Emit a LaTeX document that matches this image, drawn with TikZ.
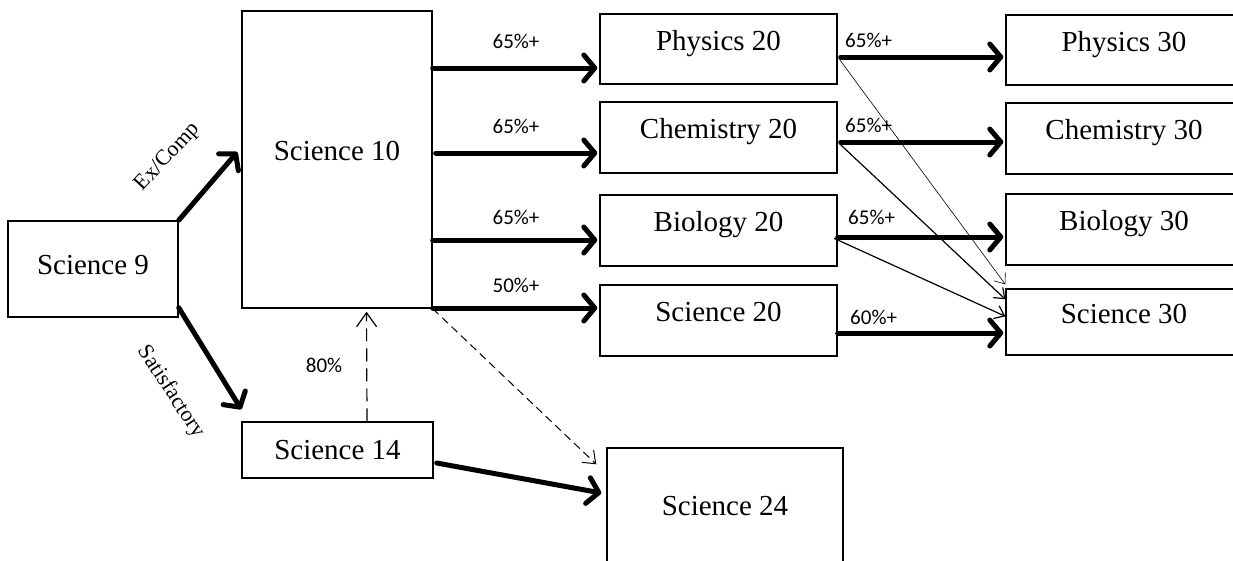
\documentclass[tikz,border=0pt]{standalone}
\usepackage{fontspec}
\setmainfont{Liberation Serif}
\newfontfamily\pctfont{Carlito}
\usetikzlibrary{arrows.meta}

\begin{document}
\begin{tikzpicture}[
    x=1pt, y=-1pt,
    course/.style={draw, line width=1.4pt, inner sep=0pt,
      font=\fontsize{29}{34}\selectfont, text height=7pt, text depth=4.8pt},
    bigarrow/.style={line width=5pt, line cap=round,
      -{Straight Barb[length=11pt, width=26pt, round]}},
    thinarrow/.style={line width=0.6pt, -{Straight Barb[length=9pt, width=14pt]}},
    dasharrow/.style={line width=1.2pt, dash pattern=on 13pt off 7pt,
      -{Straight Barb[length=14pt, width=20pt]}},
    pct/.style={font=\pctfont\fontsize{21}{24}\selectfont, inner sep=0pt},
    slant/.style={font=\fontsize{22}{26}\selectfont, inner sep=0pt}
  ]
  \useasboundingbox (0,0) rectangle (1233,560);

  % courses
  \node[course, minimum width=170, minimum height=96, text height=11pt, text depth=0pt] (sci9) at (93,269) {Science 9};
  \node[course, minimum width=190, minimum height=297] (sci10) at (337,159.5) {Science 10};
  \node[course, minimum width=191, minimum height=56, text height=19pt, text depth=0pt] (sci14) at (337.5,450) {Science 14};

  \node[course, minimum width=237, minimum height=70] (phys20) at (718.5,49) {Physics 20};
  \node[course, minimum width=237, minimum height=71] (chem20) at (718.5,137.5) {Chemistry 20};
  \node[course, minimum width=237, minimum height=71] (bio20) at (718.5,230.5) {Biology 20};
  \node[course, minimum width=237, minimum height=71] (sci20) at (718.5,320.5) {Science 20};
  \node[course, minimum width=236, minimum height=132] (sci24) at (725,514) {Science 24};

  \node[course, minimum width=236, minimum height=70] (phys30) at (1124,50) {Physics 30};
  \node[course, minimum width=236, minimum height=71] (chem30) at (1124,138.5) {Chemistry 30};
  \node[course, minimum width=236, minimum height=71] (bio30) at (1124,229.5) {Biology 30};
  \node[course, minimum width=236, minimum height=66] (sci30) at (1124,322) {Science 30};

  % out of Science 9
  \draw[bigarrow] (sci9.north east) -- ([xshift=-4pt, yshift=7.5pt]sci10.west);
  \node[slant, rotate=47] (excomp) at (168,157) {Ex/Comp};
  \draw[bigarrow] ([yshift=10pt]sci9.south east) -- ([yshift=12pt]sci14.north west);
  \node[slant, rotate=-57] (satis) at (171,392) {Satisfactory};

  % Science 14 back up
  \draw[dasharrow, shorten >=3pt] ([xshift=29.5pt]sci14.north) -- ([xshift=29.5pt]sci10.south);
  \node[pct] (p80) at (324,365) {80\%};

  % Science 10 to the 20 level
  \draw[bigarrow, shorten >=2pt] (sci10.east |- 0,68) -- (phys20.west |- 0,68)
    node[pct, midway, above=17pt] (l10a) {65\%+};
  \draw[bigarrow, shorten <=3pt, shorten >=2pt] (sci10.east |- 0,153) -- (chem20.west |- 0,153)
    node[pct, midway, above=17pt] (l10b) {65\%+};
  \draw[bigarrow, shorten >=2pt] (sci10.east |- 0,240) -- (bio20.west |- 0,240)
    node[pct, midway, above=13pt] (l10c) {65\%+};
  \draw[bigarrow, shorten >=2pt] (sci10.east |- 0,308) -- (sci20.west |- 0,308)
    node[pct, midway, above=13pt] (l10d) {50\%+};

  % to Science 24
  \draw[dasharrow, line width=1pt, dash pattern=on 8pt off 5pt,
    -{Straight Barb[length=11pt, width=17pt]}]
    (sci10.south east) -- ([xshift=-10pt, yshift=-17pt]sci24.north west);
  \draw[bigarrow] ([xshift=3pt, yshift=-13pt]sci14.east) -- ([xshift=-5pt, yshift=21pt]sci24.west);

  % 20 level to 30 level
  \draw[bigarrow, shorten <=3pt, shorten >=2pt] (phys20.east |- 0,57) -- (phys30.west |- 0,57)
    node[pct, pos=0, anchor=south west, xshift=5pt, yshift=7pt] (l20a) {65\%+};
  \draw[bigarrow, shorten <=3pt, shorten >=2pt] (chem20.east |- 0,142) -- (chem30.west |- 0,142)
    node[pct, pos=0, anchor=south west, xshift=5pt, yshift=7pt] (l20b) {65\%+};
  \draw[bigarrow, shorten >=2pt] (bio20.east |- 0,237) -- (bio30.west |- 0,237)
    node[pct, pos=0, anchor=south west, xshift=8pt, yshift=10pt] (l20c) {65\%+};
  \draw[bigarrow, shorten >=2pt] (sci20.east |- 0,333) -- (sci30.west |- 0,333)
    node[pct, pos=0, anchor=south west, xshift=10pt, yshift=6pt] (l20d) {60\%+};

  % other ways into Science 30
  \draw[thinarrow, shorten <=3pt] (phys20.east |- 0,57) -- ([yshift=4pt]sci30.north west);
  \draw[thinarrow, line width=1.2pt, shorten <=3pt] (chem20.east |- 0,142) -- ([yshift=-11pt]sci30.north west);
  \draw[thinarrow, line width=1.2pt, shorten <=-4pt] (bio20.east |- 0,240) -- ([yshift=-28pt]sci30.north west);
\end{tikzpicture}
\end{document}
